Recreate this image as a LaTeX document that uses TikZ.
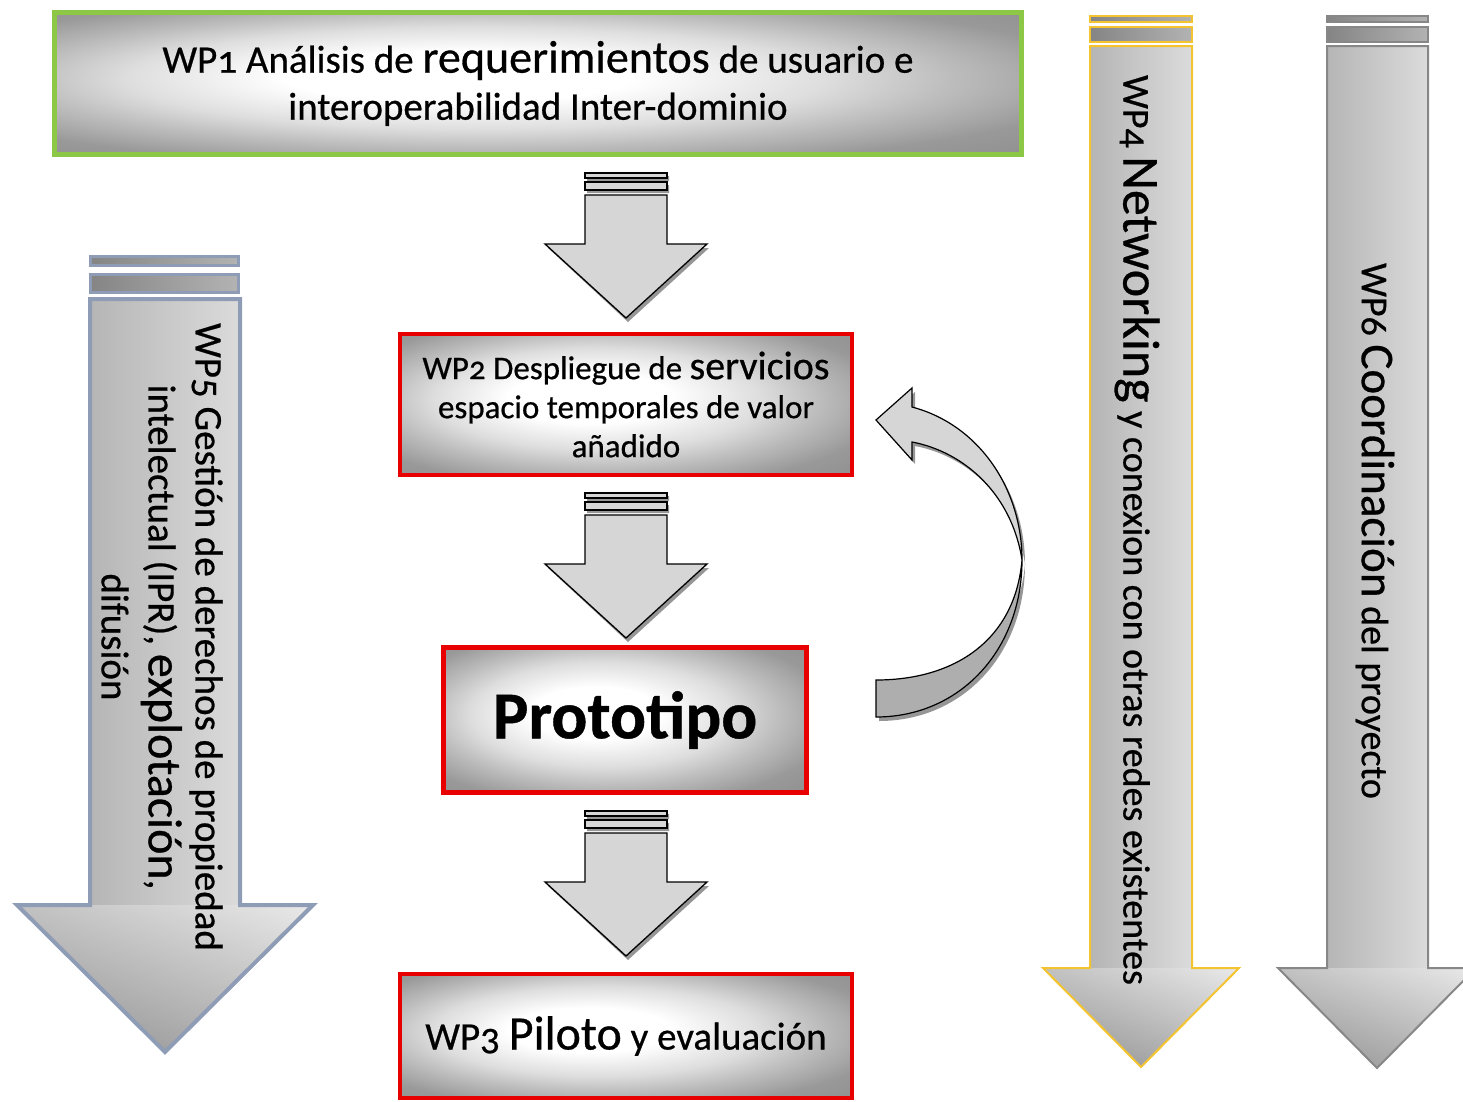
\documentclass[tikz,border=0pt]{standalone}
\usepackage{fontspec}
\setmainfont{Carlito}[Numbers=OldStyle, FakeBold=0.6]
\usepackage{tikz}

\definecolor{wpgreen}{RGB}{140,200,70}
\definecolor{wpred}{RGB}{232,0,0}
\definecolor{wpblue}{RGB}{142,156,182}
\definecolor{wpgold}{RGB}{244,196,48}
\definecolor{wpgray}{RGB}{135,135,135}
\definecolor{arrowfill}{RGB}{214,214,214}
\definecolor{loopdark}{RGB}{174,174,174}
\definecolor{shadowgray}{RGB}{150,150,150}

\pgfdeclareradialshading{boxshade}{\pgfpoint{-5bp}{3bp}}{color(0bp)=(white); color(9bp)=(white); color(18bp)=(black!13); color(24bp)=(black!26); color(31bp)=(black!40); color(40bp)=(black!45); color(50bp)=(black!45)}

\newcommand{\fsz}[2]{\fontsize{#1}{#2}\selectfont}

\tikzset{
  wpbox/.style={rectangle, shading=boxshade, line width=5pt, align=center, inner sep=0pt},
  flowarrow/.style={fill=arrowfill, draw=black, line width=1.3pt, line join=miter},
  bigshade/.style={left color=black!36, right color=black!7},
  stripe/.style={left color=black!48, right color=black!30}
}

\begin{document}
\begin{tikzpicture}[x=1pt,y=-1pt]
\useasboundingbox (0,0) rectangle (1463,1101);
\clip (0,0) rectangle (1463,1101);

% boxes
\node [wpbox, draw=wpgreen, minimum width=967, minimum height=142, font=\fsz{39}{47}] (wp1) at (538,83.5)
  {WP1 Análisis de {\fsz{46}{47}requerimientos} de usuario e\\ interoperabilidad Inter-dominio};
\node [wpbox, draw=wpred, line width=4pt, minimum width=452, minimum height=141, font=\fsz{33}{39}] (wp2) at (626,404.5)
  {WP2 Despliegue de {\fsz{40}{39}servicios}\\ espacio temporales de valor\\ añadido};
\node [wpbox, draw=wpred, minimum width=363, minimum height=145, font=\fsz{67}{70}\bfseries] (proto) at (625,720) {Prototipo};
\node [wpbox, draw=wpred, line width=4pt, minimum width=452, minimum height=124, font=\fsz{39}{40}] (wp3) at (626,1036)
  {WP3 {\fsz{48}{46}Piloto} y evaluación};

% arrows between the boxes
\foreach \a in {wp1,wp2,proto}{
  \begin{scope}[shift={(wp2.center |- \a.south)}, yshift=-16pt]
    \fill[shadowgray] (-39,3) rectangle (43,8) (-39,12) rectangle (43,20)
      (-78,75) -- (2,149) -- (83,75) -- cycle;
    \filldraw[flowarrow] (-41,0) rectangle (41,5);
    \filldraw[flowarrow] (-41,9) rectangle (41,17);
    \filldraw[flowarrow] (-41,22) -- (-41,71) -- (-81,71) -- (0,145) -- (81,71) -- (41,71) -- (41,22) -- cycle;
  \end{scope}
}

% loop back from the prototype
\begin{scope}[shift={(3,4)}]
\fill[shadowgray] (912,407) .. controls (980,425) and (1022,490) .. (1022,560)
  .. controls (1012,495) and (965,452) .. (912,442) -- (912,460) -- (876,420) -- (912,388) -- cycle;
\fill[shadowgray] (1022,560) .. controls (1022,650) and (960,717) .. (876,717)
  -- (876,680) .. controls (955,680) and (1015,640) .. (1022,560) -- cycle;
\end{scope}
\filldraw[fill=arrowfill, draw=black, line width=1.2pt] (912,407) .. controls (980,425) and (1022,490) .. (1022,560)
  .. controls (1012,495) and (965,452) .. (912,442) -- (912,460) -- (876,420) -- (912,388) -- cycle;
\filldraw[fill=loopdark, draw=black, line width=1.2pt] (1022,560) .. controls (1022,650) and (960,717) .. (876,717)
  -- (876,680) .. controls (955,680) and (1015,640) .. (1022,560) -- cycle;

% WP5
\draw[stripe, draw=wpblue, line width=3pt] (90,256) rectangle (238,265);
\draw[stripe, draw=wpblue, line width=3pt] (90,274) rectangle (238,292);
\shade[bigshade] (90,299) -- (90,905) -- (17,905) -- (165,1052) -- (313,905) -- (240,905) -- (240,299) -- cycle;
\shade[top color=black!10, bottom color=black!55, fill opacity=0.45] (17,905) -- (165,1052) -- (313,905) -- cycle;
\draw[wpblue, line width=4pt, line join=miter] (90,299) -- (90,905) -- (17,905) -- (165,1052) -- (313,905) -- (240,905) -- (240,299) -- cycle;
\node [rotate=-90, align=center, font=\fsz{39}{47}] (wp5) at (162,637)
  {WP5 Gestión de derechos de propiedad\\ intelectual (IPR), {\fsz{48}{47}explotación},\\ difusión};

% WP4
\draw[stripe, draw=wpgold, line width=2pt] (1090,16) rectangle (1192,22);
\draw[stripe, draw=wpgold, line width=2pt] (1090,27) rectangle (1192,42);
\shade[bigshade] (1090,46) -- (1090,968) -- (1043,968) -- (1141,1067) -- (1239,968) -- (1192,968) -- (1192,46) -- cycle;
\shade[top color=black!10, bottom color=black!55, fill opacity=0.45] (1043,968) -- (1141,1067) -- (1239,968) -- cycle;
\draw[wpgold, line width=2pt] (1090,46) -- (1090,968) -- (1043,968) -- (1141,1067) -- (1239,968) -- (1192,968) -- (1192,46) -- cycle;
\node [rotate=-90, font=\fsz{38}{40}] (wp4) at (1137,530)
  {WP4 {\fsz{52}{50}Networking} y conexion con otras redes existentes};

% WP6
\draw[stripe, draw=wpgray, line width=2pt] (1327,16) rectangle (1428,22);
\draw[stripe, draw=wpgray, line width=2pt] (1327,27) rectangle (1428,42);
\shade[bigshade] (1327,46) -- (1327,968) -- (1278,968) -- (1377,1068) -- (1476,968) -- (1428,968) -- (1428,46) -- cycle;
\shade[top color=black!10, bottom color=black!55, fill opacity=0.45] (1278,968) -- (1377,1068) -- (1476,968) -- cycle;
\draw[wpgray, line width=2pt] (1327,46) -- (1327,968) -- (1278,968) -- (1377,1068) -- (1476,968) -- (1428,968) -- (1428,46) -- cycle;
\node [rotate=-90, font=\fsz{38}{40}] (wp6) at (1375,531)
  {WP6 {\fsz{47}{46}Coordinación} del proyecto};

\end{tikzpicture}
\end{document}
